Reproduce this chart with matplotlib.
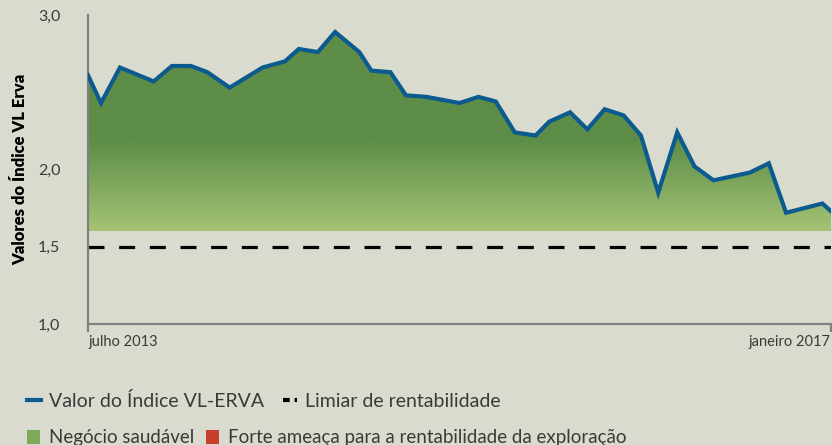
import numpy as np
import matplotlib.pyplot as plt
from matplotlib.lines import Line2D
from matplotlib.patches import Patch
from matplotlib.colors import LinearSegmentedColormap

# meses desde julho 2013
meses = [0, 0.75, 1.85, 3.8, 4.86, 5.96, 6.9, 8.2, 10.1, 11.4, 12.2, 13.3, 14.3,
         15.7, 16.4, 17.5, 18.4, 19.6, 21.5, 22.6, 23.6, 24.7, 25.9, 26.7, 27.9,
         28.9, 29.9, 31.0, 32.0, 33.0, 34.1, 35.1, 36.2, 38.3, 39.4, 40.4, 42.5, 43]
indice = [2.61, 2.43, 2.66, 2.57, 2.67, 2.67, 2.63, 2.53, 2.66, 2.70, 2.78, 2.76, 2.89,
          2.76, 2.64, 2.63, 2.48, 2.47, 2.43, 2.47, 2.44, 2.24, 2.22, 2.31, 2.37,
          2.26, 2.39, 2.35, 2.22, 1.85, 2.24, 2.02, 1.93, 1.98, 2.04, 1.72, 1.78, 1.73]
limiar = 1.5
base_verde = 1.6
yticks = [1.0, 1.5, 2.0, 3.0]
yticklabels = ['1,0', '1,5', '2,0', '3,0']
xticklabels = ['julho 2013', 'janeiro 2017']

bg = '#d9dbcf'
azul = '#0b5b8e'
cinza = '#808080'
texto = '#3a3a3a'

plt.rcParams['font.family'] = ['Lato', 'DejaVu Sans']

fig = plt.figure(figsize=(8.32, 4.45), dpi=100, facecolor=bg)
ax = fig.add_axes([88 / 832, 1 - 324 / 445, 743 / 832, 309 / 445], facecolor=bg)

x = np.array(meses)
y = np.array(indice)

# area verde com gradiente (escuro acima de ~2,2)
poly = ax.fill_between(x, base_verde, y, facecolor='none', edgecolor='none')
cmap = LinearSegmentedColormap.from_list('verde', ['#a4c375', '#5d8d47'])
grad = np.linspace(0, 1, 256).reshape(-1, 1)
grad = np.clip(grad / 0.42, 0, 1)
img = ax.imshow(grad, cmap=cmap, aspect='auto', origin='lower',
                extent=[x[0], x[-1], base_verde, 3.0], zorder=1)
img.set_clip_path(poly.get_paths()[0], transform=ax.transData)

ax.plot(x, y, color=azul, lw=3, solid_joinstyle='miter', zorder=3)
ax.axhline(limiar, color='black', lw=2.3, dashes=(5.0, 4.6), zorder=2)

ax.set_xlim(0, 43)
ax.set_ylim(1.0, 3.0)

for s in ['top', 'right']:
    ax.spines[s].set_visible(False)
for s in ['left', 'bottom']:
    ax.spines[s].set_color(cinza)
    ax.spines[s].set_linewidth(1.6)

ax.set_yticks(yticks)
ax.set_yticklabels(yticklabels, fontsize=11.5, color=texto)
ax.tick_params(axis='y', length=0, pad=20)
ax.set_yticks([1.0], minor=True)
ax.tick_params(axis='y', which='minor', length=10, width=1.6, color=cinza)

ax.set_xticks([0, 43])
ax.set_xticklabels(xticklabels, fontsize=10.5, color=texto)
ax.tick_params(axis='x', length=6, width=1.6, color=cinza, pad=2)
labs = ax.get_xticklabels()
labs[0].set_ha('left')
labs[1].set_ha('right')

ax.set_ylabel('Valores do Índice VL Erva', fontsize=12, fontweight='heavy',
              color='black')
ax.yaxis.set_label_coords(-0.08, 0.5)

h1 = [Line2D([], [], color=azul, lw=3),
      Line2D([], [], color='black', lw=3, dashes=(1.6, 1.2))]
fig.legend(h1, ['Valor do Índice VL-ERVA', 'Limiar de rentabilidade'],
           loc='center left', bbox_to_anchor=(0.012, 1 - 401 / 445), ncol=2,
           frameon=False, fontsize=14, handlelength=0.7, handletextpad=0.4,
           columnspacing=1.0, labelcolor=texto)
h2 = [Patch(facecolor='#7faa5c'), Patch(facecolor='#c8402c')]
fig.legend(h2, ['Negócio saudável', 'Forte ameaça para a rentabilidade da exploração'],
           loc='center left', bbox_to_anchor=(0.012, 1 - 438 / 445), ncol=2,
           frameon=False, fontsize=13.5, handlelength=0.7, handleheight=0.7,
           handletextpad=0.5, columnspacing=0.6, labelcolor=texto)

fig.savefig('out.png', dpi=100, facecolor=bg)
